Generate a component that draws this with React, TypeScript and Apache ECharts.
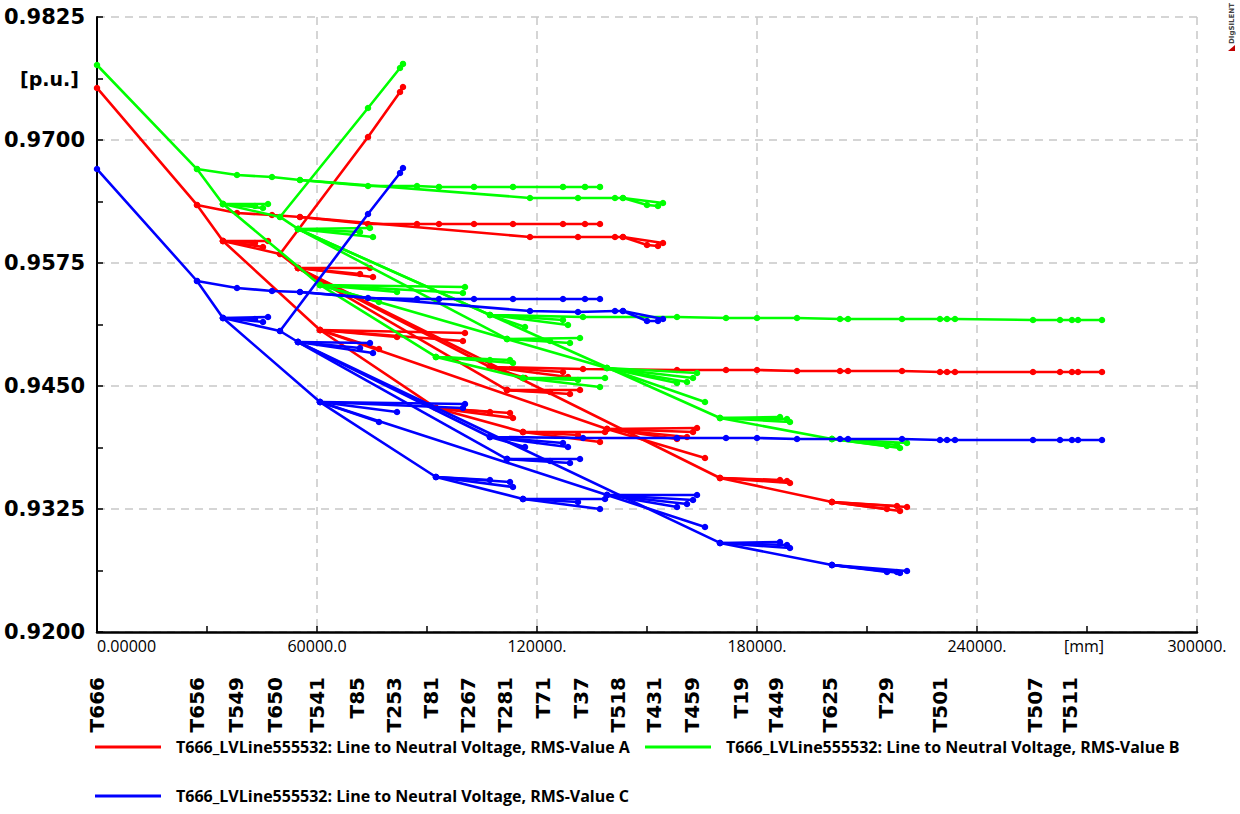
import React, { useEffect, useRef } from 'react';
import * as echarts from 'echarts';

const seriesNames = [
  'T666_LVLine555532: Line to Neutral Voltage, RMS-Value A',
  'T666_LVLine555532: Line to Neutral Voltage, RMS-Value B',
  'T666_LVLine555532: Line to Neutral Voltage, RMS-Value C',
];
const phaseColors = ['#ff0000', '#00ff00', '#0000ff'];

// distance from T666 [mm] of the points of every branch of the feeder
const branchX: number[][] = [
  [0, 27270, 34360, 60820, 92450, 116180],
  [27270, 38180, 47730, 55360, 73910, 87270, 93270, 102820, 113450, 127090, 133090, 137180],
  [55360, 118090, 131180, 141270, 143450, 154360],
  [143450, 150000, 153000],
  [34360, 46640],
  [34360, 45270],
  [34360, 43090],
  [34360, 49910, 54820],
  [49910, 73910, 82640, 83450],
  [54820, 74450],
  [54820, 75270],
  [54820, 71730],
  [54820, 107180, 132550, 158180, 171550, 180000, 190910, 202640, 204820, 219550, 229910, 231820, 234000, 255270, 262640, 265910, 267550, 274090],
  [107180, 128450],
  [107180, 116730],
  [107180, 127090],
  [54820, 111820],
  [111820, 131730],
  [111820, 129000],
  [111820, 123550],
  [54820, 169910, 200450],
  [169910, 189000],
  [169910, 186270],
  [169910, 188180],
  [200450, 220910],
  [200450, 219000],
  [200450, 218180],
  [200450, 215450],
  [60820, 100360],
  [60820, 99800],
  [60820, 81820],
  [60820, 76910],
  [60820, 139090, 165820],
  [139090, 163640],
  [139090, 162550],
  [139090, 160910],
  [139090, 158180],
  [92450, 113450],
  [92450, 112640],
  [92450, 107180],
  [116180, 138550],
  [116180, 137180],
  [116180, 131180],
];

// phase A voltages [p.u.]
const voltA: number[][] = [
  [0.97529, 0.96340, 0.95974, 0.95069, 0.94277, 0.94033],
  [0.96340, 0.96258, 0.96238, 0.96218, 0.96146, 0.96146, 0.96146, 0.96146, 0.96146, 0.96146, 0.96146, 0.96146],
  [0.96218, 0.96014, 0.96014, 0.96014, 0.96014, 0.95953],
  [0.96014, 0.95933, 0.95923],
  [0.95974, 0.95974],
  [0.95974, 0.95913],
  [0.95974, 0.95953],
  [0.95974, 0.95842, 0.95699],
  [0.95842, 0.97031, 0.97488, 0.97539],
  [0.95699, 0.95699],
  [0.95699, 0.95608],
  [0.95699, 0.95638],
  [0.95699, 0.94693, 0.94673, 0.94663, 0.94663, 0.94663, 0.94653, 0.94653, 0.94653, 0.94653, 0.94642, 0.94642, 0.94642, 0.94642, 0.94642, 0.94642, 0.94642, 0.94642],
  [0.94693, 0.94592],
  [0.94693, 0.94581],
  [0.94693, 0.94642],
  [0.95699, 0.94459],
  [0.94459, 0.94459],
  [0.94459, 0.94419],
  [0.94459, 0.94439],
  [0.95699, 0.93565, 0.93321],
  [0.93565, 0.93514],
  [0.93565, 0.93545],
  [0.93565, 0.93535],
  [0.93321, 0.93270],
  [0.93321, 0.93230],
  [0.93321, 0.93281],
  [0.93321, 0.93250],
  [0.95069, 0.95039],
  [0.95069, 0.94957],
  [0.95069, 0.94998],
  [0.95069, 0.94876],
  [0.95069, 0.94063, 0.93768],
  [0.94063, 0.94073],
  [0.94063, 0.94033],
  [0.94063, 0.93982],
  [0.94063, 0.93961],
  [0.94277, 0.94175],
  [0.94277, 0.94226],
  [0.94277, 0.94236],
  [0.94033, 0.94033],
  [0.94033, 0.93931],
  [0.94033, 0.94002],
];

// phase B voltages [p.u.]
const voltB: number[][] = [
  [0.97762, 0.96705, 0.96350, 0.95527, 0.94795, 0.94581],
  [0.96705, 0.96644, 0.96624, 0.96594, 0.96533, 0.96533, 0.96523, 0.96523, 0.96523, 0.96523, 0.96523, 0.96523],
  [0.96594, 0.96411, 0.96411, 0.96411, 0.96411, 0.96360],
  [0.96411, 0.96340, 0.96329],
  [0.96350, 0.96350],
  [0.96350, 0.96309],
  [0.96350, 0.96329],
  [0.96350, 0.96218, 0.96096],
  [0.96218, 0.97325, 0.97732, 0.97773],
  [0.96096, 0.96106],
  [0.96096, 0.96014],
  [0.96096, 0.96065],
  [0.96096, 0.95222, 0.95201, 0.95201, 0.95191, 0.95191, 0.95191, 0.95181, 0.95181, 0.95181, 0.95181, 0.95181, 0.95181, 0.95171, 0.95171, 0.95171, 0.95171, 0.95171],
  [0.95222, 0.95120],
  [0.95222, 0.95100],
  [0.95222, 0.95171],
  [0.96096, 0.94978],
  [0.94978, 0.94988],
  [0.94978, 0.94937],
  [0.94978, 0.94957],
  [0.96096, 0.94175, 0.93961],
  [0.94175, 0.94134],
  [0.94175, 0.94185],
  [0.94175, 0.94165],
  [0.93961, 0.93921],
  [0.93961, 0.93870],
  [0.93961, 0.93900],
  [0.93961, 0.93890],
  [0.95527, 0.95506],
  [0.95527, 0.95445],
  [0.95527, 0.95455],
  [0.95527, 0.95354],
  [0.95527, 0.94683, 0.94337],
  [0.94683, 0.94632],
  [0.94683, 0.94581],
  [0.94683, 0.94541],
  [0.94683, 0.94531],
  [0.94795, 0.94734],
  [0.94795, 0.94764],
  [0.94795, 0.94764],
  [0.94581, 0.94581],
  [0.94581, 0.94490],
  [0.94581, 0.94561],
];

// phase C voltages [p.u.]
const voltC: number[][] = [
  [0.96705, 0.95567, 0.95191, 0.94337, 0.93575, 0.93352],
  [0.95567, 0.95496, 0.95466, 0.95455, 0.95394, 0.95384, 0.95384, 0.95384, 0.95384, 0.95384, 0.95384, 0.95384],
  [0.95455, 0.95262, 0.95252, 0.95262, 0.95262, 0.95181],
  [0.95262, 0.95161, 0.95161],
  [0.95191, 0.95201],
  [0.95191, 0.95151],
  [0.95191, 0.95181],
  [0.95191, 0.95059, 0.94947],
  [0.95059, 0.96248, 0.96665, 0.96716],
  [0.94947, 0.94937],
  [0.94947, 0.94835],
  [0.94947, 0.94886],
  [0.94947, 0.93982, 0.93972, 0.93972, 0.93972, 0.93972, 0.93961, 0.93961, 0.93961, 0.93961, 0.93951, 0.93951, 0.93951, 0.93951, 0.93951, 0.93951, 0.93951, 0.93951],
  [0.93982, 0.93880],
  [0.93982, 0.93880],
  [0.93982, 0.93921],
  [0.94947, 0.93758],
  [0.93758, 0.93758],
  [0.93758, 0.93718],
  [0.93758, 0.93738],
  [0.94947, 0.92905, 0.92681],
  [0.92905, 0.92854],
  [0.92905, 0.92915],
  [0.92905, 0.92884],
  [0.92681, 0.92620],
  [0.92681, 0.92600],
  [0.92681, 0.92610],
  [0.92681, 0.92610],
  [0.94337, 0.94317],
  [0.94337, 0.94277],
  [0.94337, 0.94236],
  [0.94337, 0.94134],
  [0.94337, 0.93392, 0.93067],
  [0.93392, 0.93392],
  [0.93392, 0.93342],
  [0.93392, 0.93301],
  [0.93392, 0.93270],
  [0.93575, 0.93474],
  [0.93575, 0.93524],
  [0.93575, 0.93545],
  [0.93352, 0.93352],
  [0.93352, 0.93250],
  [0.93352, 0.93321],
];

const nodeNames = ['T666', 'T656', 'T549', 'T650', 'T541', 'T85', 'T253', 'T81', 'T267', 'T281', 'T71', 'T37', 'T518', 'T431', 'T459', 'T19', 'T449', 'T625', 'T29', 'T501', 'T507', 'T511'];
const nodeX = [0, 27300, 38000, 48500, 60000, 71000, 81000, 91000, 101300, 111200, 121500, 132000, 142200, 152000, 162200, 175600, 185100, 199800, 215300, 229900, 255800, 265400];

const xTickLabels = ['0.00000', '60000.0', '120000.', '180000.', '240000.', '300000.'];
const yTickLabels = ['0.9200', '0.9325', '0.9450', '0.9575', '0.9700', '0.9825'];

export default function App() {
  const ref = useRef<HTMLDivElement>(null);
  useEffect(() => {
    if (!ref.current) return;
    const chart = echarts.init(ref.current, null, { renderer: 'svg' });
    const phases = [voltA, voltB, voltC];
    const series: any[] = [];
    phases.forEach((volts, p) => {
      branchX.forEach((xs, b) => {
        series.push({
          type: 'line',
          name: seriesNames[p],
          data: xs.map((x, i) => [x, volts[b][i]]),
          symbol: 'circle',
          symbolSize: 6.5,
          showSymbol: true,
          lineStyle: { color: phaseColors[p], width: 2.6 },
          itemStyle: { color: phaseColors[p] },
          silent: true,
          z: 3 + p,
          emphasis: { disabled: true },
        });
      });
    });
    const legendText = { fontFamily: 'Open Sans', fontSize: 16, fontWeight: 'bold', color: '#000', padding: [0, 0, 0, 10] };
    const legendBase = { icon: 'rect', itemWidth: 66, itemHeight: 3, selectedMode: false, textStyle: legendText, padding: 0 };
    chart.setOption({
      animation: false,
      grid: { left: 97, right: 43, top: 17, bottom: 182 },
      xAxis: [
        {
          type: 'value', min: 0, max: 300000, interval: 60000, position: 'bottom',
          axisLine: { show: true, lineStyle: { color: '#000', width: 2.5 } },
          axisTick: { show: true, inside: true, length: 6, lineStyle: { color: '#000', width: 1.5 } },
          minorTick: { show: true, splitNumber: 2, length: 6, lineStyle: { color: '#000', width: 1.5 } },
          splitLine: { show: true, lineStyle: { color: '#c8c8c8', width: 1.5, type: [8, 6] } },
          axisLabel: {
            formatter: (v: number) => xTickLabels[Math.round(v / 60000)] ?? '',
            fontFamily: 'Open Sans', fontSize: 16, color: '#000', margin: 6, alignMinLabel: 'left',
          },
        },
        {
          type: 'value', min: 0, max: 300000, position: 'bottom', offset: 37,
          axisLine: { show: false }, axisTick: { show: false }, splitLine: { show: false },
          axisLabel: {
            customValues: nodeX,
            formatter: (v: number) => { const i = nodeX.indexOf(v); return i >= 0 ? nodeNames[i] : ''; },
            rotate: 90, fontFamily: 'DejaVu Sans', fontWeight: 'bold', fontSize: 20, color: '#000', margin: 8,
          },
        },
      ],
      yAxis: {
        type: 'value', min: 0.92, max: 0.9825, interval: 0.0125,
        axisLine: { show: true, lineStyle: { color: '#000', width: 2 } },
        axisTick: { show: true, inside: true, length: 6, lineStyle: { color: '#000', width: 1.5 } },
        minorTick: { show: true, splitNumber: 2, length: 6, lineStyle: { color: '#000', width: 1.5 } },
        splitLine: { show: true, lineStyle: { color: '#c8c8c8', width: 1.5, type: [8, 6] } },
        axisLabel: {
          formatter: (v: number) => yTickLabels[Math.round((v - 0.92) / 0.0125)] ?? '',
          fontFamily: 'DejaVu Sans', fontWeight: 'bold', fontSize: 21, color: '#000', margin: 12,
        },
      },
      legend: [
        { ...legendBase, data: [seriesNames[0]], left: 95, top: 739 },
        { ...legendBase, data: [seriesNames[1]], left: 645, top: 739 },
        { ...legendBase, data: [seriesNames[2]], left: 95, top: 788 },
      ],
      graphic: [
        { type: 'text', left: 20, top: 69, style: { text: '[p.u.]', fontFamily: 'DejaVu Sans', fontWeight: 'bold', fontSize: 19, fill: '#000' } },
        { type: 'text', left: 1064, top: 638, style: { text: '[mm]', fontFamily: 'Open Sans', fontSize: 16, fill: '#000' } },
        { type: 'text', x: 1235, y: 44, rotation: Math.PI / 2, style: { text: 'DIgSILENT', fontFamily: 'DejaVu Sans', fontWeight: 'bold', fontSize: 7, fill: '#444', textVerticalAlign: 'bottom' } },
        { type: 'polygon', shape: { points: [[1228, 51], [1235, 45], [1235, 51]] }, style: { fill: '#c00000' } },
      ],
      series,
    });
    return () => chart.dispose();
  }, []);
  return <div ref={ref} style={{ position: 'fixed', left: 0, top: 0, width: 1240, height: 814, background: '#fff' }} />;
}
